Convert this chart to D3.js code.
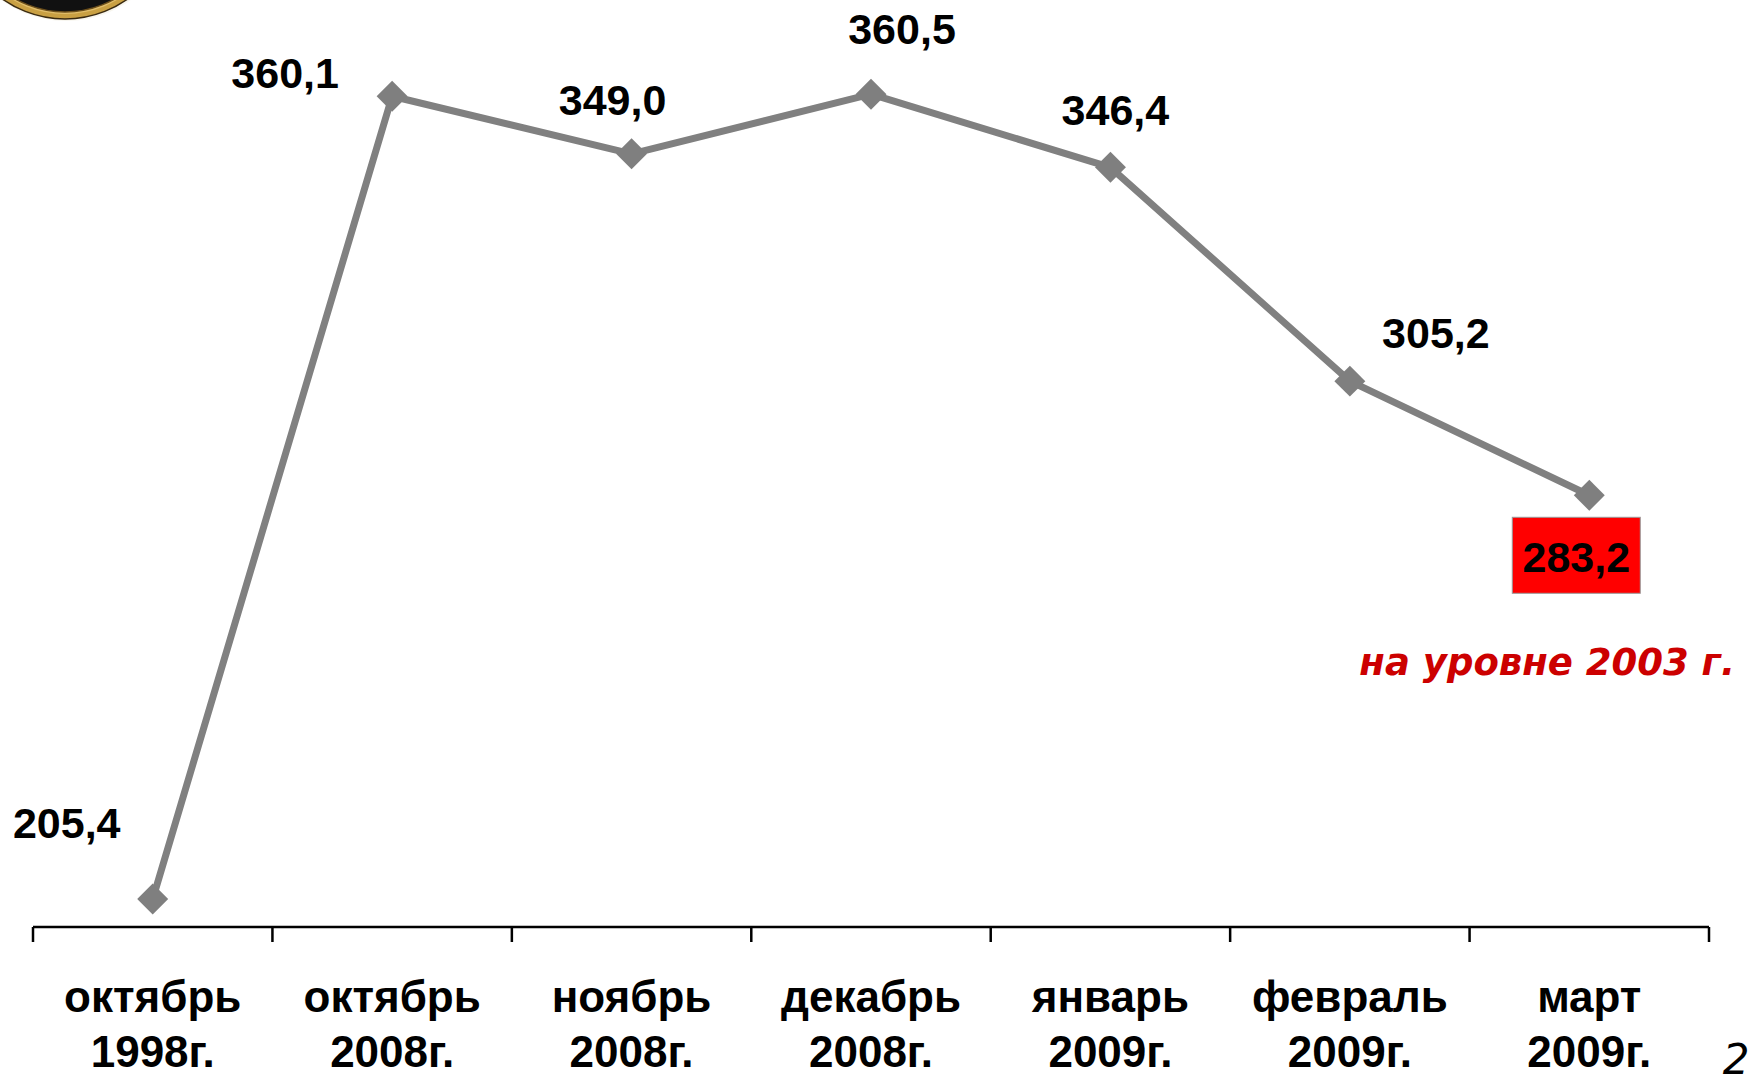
<!DOCTYPE html>
<html>
<head>
<meta charset="utf-8">
<script src="https://cdn.jsdelivr.net/npm/d3@7"></script>
<style>
  html, body { margin: 0; padding: 0; background: #ffffff; overflow: hidden; }
  svg { display: block; }
</style>
</head>
<body>
<svg id="chart" width="1761" height="1078"></svg>
<script>
// ---- data ----
const categoriesLine1 = ["октябрь", "октябрь", "ноябрь", "декабрь", "январь", "февраль", "март"];
const categoriesLine2 = ["1998г.", "2008г.", "2008г.", "2008г.", "2009г.", "2009г.", "2009г."];
const values = [205.4, 360.1, 349.0, 360.5, 346.4, 305.2, 283.2];
const noteText = "на уровне 2003 г.";
const pageNumber = "2";

// ---- layout (label offsets from their point, px) ----
const labelDx = [-86, -107, -19, 31, 5, 86, -13];
const labelDy = [-61, -8, -39, -50, -42, -33, 77];
const highlightIndex = 6;

const W = 1761, H = 1078;
const svg = d3.select("#chart");

const cats = categoriesLine1.map((c, i) => c + " " + categoriesLine2[i]);
const x = d3.scaleBand().domain(cats).range([33, 1709]).padding(0);
const y = d3.scaleLinear().domain([200, 380]).range([927, -7]);
const cx = i => x(cats[i]) + x.bandwidth() / 2;

const ru = d3.formatLocale({decimal: ",", thousands: " ", grouping: [3], currency: ["", " ₽"]});
const fmt = ru.format(".1f");

// ---- decorative logo fragment (top-left) ----
const logo = svg.append("g");
logo.append("circle").attr("cx", 66).attr("cy", -89).attr("r", 110)
  .attr("fill", "#f4f0e4").attr("opacity", 0.6);
logo.append("circle").attr("cx", 65).attr("cy", -89).attr("r", 108)
  .attr("fill", "#c9a043").attr("stroke", "#3a2a10").attr("stroke-width", 1.5);
logo.append("circle").attr("cx", 65).attr("cy", -89).attr("r", 103)
  .attr("fill", "#e0bd6a");
logo.append("circle").attr("cx", 65).attr("cy", -89).attr("r", 101)
  .attr("fill", "#111").attr("stroke", "#6b4e1a").attr("stroke-width", 1.5);

// ---- axis ----
const axisG = svg.append("g").attr("transform", "translate(0,927)");
axisG.append("line")
  .attr("x1", x.range()[0]).attr("x2", x.range()[1])
  .attr("y1", 0).attr("y2", 0)
  .attr("stroke", "#000").attr("stroke-width", 2.5);
const boundaries = cats.map(c => x(c)).concat([x.range()[1]]);
axisG.selectAll("line.tick").data(boundaries).join("line")
  .attr("class", "tick")
  .attr("x1", d => d).attr("x2", d => d)
  .attr("y1", 0).attr("y2", 15)
  .attr("stroke", "#000").attr("stroke-width", 2.5);

const labG = svg.append("g")
  .attr("font-family", "'Liberation Sans', Arial, sans-serif")
  .attr("font-weight", "bold").attr("font-size", 44).attr("fill", "#000")
  .attr("text-anchor", "middle");
labG.selectAll("text").data(cats).join("text")
  .attr("x", (d, i) => cx(i)).attr("y", 1012)
  .each(function(d, i) {
    const t = d3.select(this);
    t.append("tspan").attr("x", cx(i)).attr("y", 1012).text(categoriesLine1[i]);
    t.append("tspan").attr("x", cx(i)).attr("y", 1067).text(categoriesLine2[i]);
  });

// ---- line ----
const line = d3.line().x((d, i) => cx(i)).y(d => y(d));
svg.append("path").datum(values)
  .attr("d", line)
  .attr("fill", "none").attr("stroke", "#808080").attr("stroke-width", 7)
  .attr("stroke-linejoin", "round");

svg.selectAll("path.marker").data(values).join("path")
  .attr("class", "marker")
  .attr("d", d3.symbol(d3.symbolSquare, 480))
  .attr("transform", (d, i) => `translate(${cx(i)},${y(d)}) rotate(45)`)
  .attr("fill", "#7f7f7f");

// ---- value labels ----
const hl = values[highlightIndex];
svg.append("rect")
  .attr("x", cx(highlightIndex) + labelDx[highlightIndex] - 64)
  .attr("y", y(hl) + labelDy[highlightIndex] - 55)
  .attr("width", 128).attr("height", 76)
  .attr("fill", "#ff0000").attr("stroke", "#9a9a9a").attr("stroke-width", 1);

svg.append("g")
  .attr("font-family", "'Liberation Sans', Arial, sans-serif")
  .attr("font-weight", "bold").attr("font-size", 43).attr("fill", "#000")
  .attr("text-anchor", "middle")
  .selectAll("text").data(values).join("text")
  .attr("x", (d, i) => cx(i) + labelDx[i])
  .attr("y", (d, i) => y(d) + labelDy[i])
  .text(d => fmt(d));

// ---- note ----
svg.append("text")
  .attr("x", 1735).attr("y", 675)
  .attr("text-anchor", "end")
  .attr("font-family", "'DejaVu Sans', Verdana, sans-serif")
  .attr("font-weight", "bold").attr("font-style", "italic")
  .attr("font-size", 37).attr("fill", "#cc0000")
  .text(noteText);

// ---- page number ----
svg.append("text")
  .attr("x", 1736).attr("y", 1074)
  .attr("text-anchor", "middle")
  .attr("font-family", "'DejaVu Sans', Verdana, sans-serif")
  .attr("font-style", "italic")
  .attr("font-size", 42).attr("fill", "#000")
  .text(pageNumber);
</script>
</body>
</html>
